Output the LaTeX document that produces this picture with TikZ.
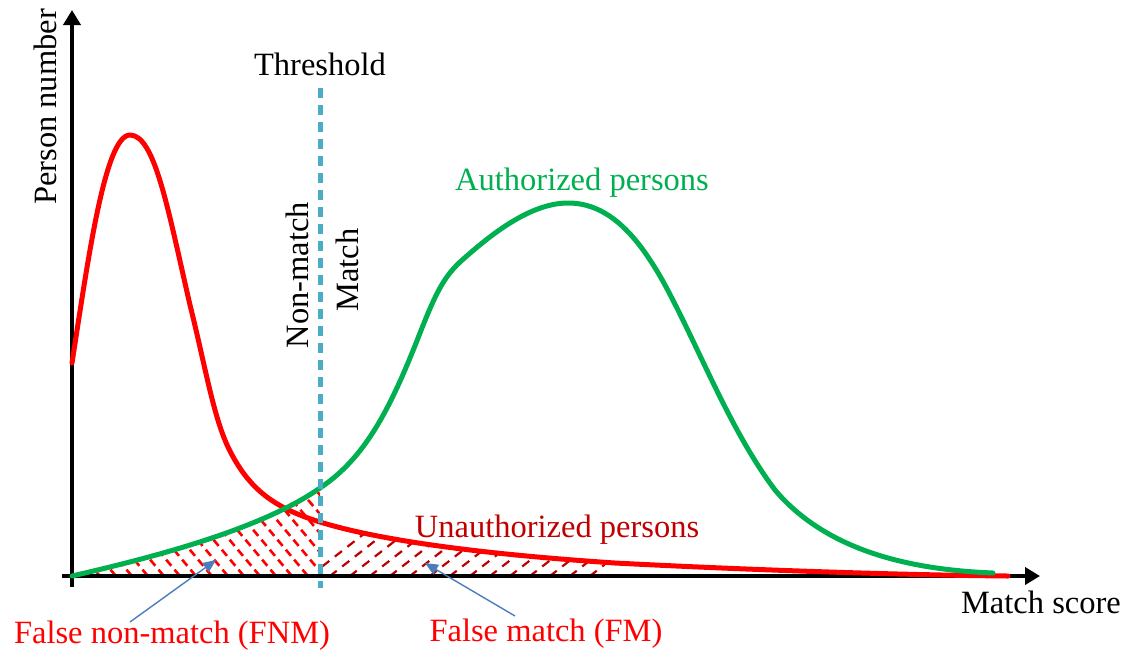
\documentclass[tikz,border=0pt]{standalone}
\usepackage{fontspec}
\setmainfont{Liberation Serif}
\usetikzlibrary{arrows.meta}
\definecolor{curvered}{HTML}{FF0000}
\definecolor{labelred}{HTML}{C00000}
\definecolor{authgreen}{HTML}{00B050}
\definecolor{threshblue}{HTML}{4BACC6}
\definecolor{pointerblue}{HTML}{4A7EBB}
\begin{document}
\begin{tikzpicture}[x=1pt,y=-1pt,
  lbl/.style={font=\fontsize{32.5}{36}\selectfont, inner sep=0pt},
  axisline/.style={line width=4pt, -{Triangle[length=15pt,width=17pt]}},
  curveline/.style={line width=5pt, line join=round, line cap=round},
  hatchfnm/.style={curvered, line width=2.6pt, dash pattern=on 8pt off 5pt},
  hatchfm/.style={labelred, line width=2.2pt, dash pattern=on 9pt off 7pt},
  pointer/.style={pointerblue, line width=1.4pt, -{Triangle[length=13pt,width=11pt]}},
  threshline/.style={threshblue, line width=5pt, dash pattern=on 10pt off 7pt}]

\useasboundingbox (0,0) rectangle (1124,649);

% axis end points
\coordinate (xstart) at (62,576);
\coordinate (xtip)   at (1040,576);
\coordinate (ystart) at (72,587);
\coordinate (ytip)   at (72,10);
\coordinate (tTop)   at (320,88);
\coordinate (tBot)   at (320,588);

% hatched area: false non-match (under the authorized curve, left of threshold)
\begin{scope}
  \clip (72,576) .. controls (150,558) and (260,530) .. (320,488) -- (320,576) -- cycle;
  \foreach \k in {-9,...,12}
    \draw[hatchfnm] ({139+16*\k},470) -- ({248+16*\k},600);
\end{scope}

% hatched area: false match (under the unauthorized curve, right of threshold)
\begin{scope}
  \clip (320,400) rectangle (605,576);
  \clip (300,515) .. controls (350,535) and (450,552) .. (615,563)
        -- (615,576) -- (300,576) -- cycle;
  \foreach \k in {-1,...,22}
    \draw[hatchfm] ({304.4+20*\k},596) -- ({458+20*\k},476);
\end{scope}

% axes
\draw[axisline] (xstart) -- (xtip);
\draw[axisline] (ystart) -- (ytip);

% unauthorized persons
\draw[curveline, curvered] (72,363)
  .. controls (88,260) and (105,135) .. (130,135)
  .. controls (155,135) and (168,210) .. (190,305)
  .. controls (205,365) and (213,415) .. (228,447)
  .. controls (243,478) and (262,500) .. (300,515)
  .. controls (350,535) and (450,552) .. (615,563)
  .. controls (750,570) and (900,575) .. (1008,576);

% authorized persons
\draw[curveline, authgreen] (72,576)
  .. controls (150,558) and (260,530) .. (320,488)
  .. controls (365,458) and (390,410) .. (420,333)
  .. controls (435,295) and (443,278) .. (460,262)
  .. controls (490,235) and (530,203) .. (568,203)
  .. controls (605,203) and (635,230) .. (665,285)
  .. controls (700,350) and (730,430) .. (775,490)
  .. controls (830,555) and (920,570) .. (993,573);

% threshold
\draw[threshline] (tTop) -- (tBot);

% texts
\node[lbl] (thr) at (320,64) {Threshold};
\node[lbl, rotate=90] (ylab) at (45,107) {Person number};
\node[lbl, anchor=base east] (xlab) at (1121,613) {Match score};
\node[lbl, rotate=90] (nonm) at (297,275) {Non-match};
\node[lbl, rotate=90] (mtch) at (347,270) {Match};
\node[lbl, text=authgreen] (auth) at (582,183) {Authorized persons};
\node[lbl, text=labelred] (unauth) at (557,530) {Unauthorized persons};
\node[lbl, text=curvered] (fnm) at (172,636) {False non-match (FNM)};
\node[lbl, text=curvered] (fm) at (546,634) {False match (FM)};

% pointers to the hatched areas
\coordinate (fnmTail) at (130,622);
\coordinate (fnmTip)  at (216,560);
\coordinate (fmTail)  at (515,616);
\coordinate (fmTip)   at (425,563);
\draw[pointer] (fnmTail) -- (fnmTip);
\draw[pointer] (fmTail) -- (fmTip);
\end{tikzpicture}
\end{document}
